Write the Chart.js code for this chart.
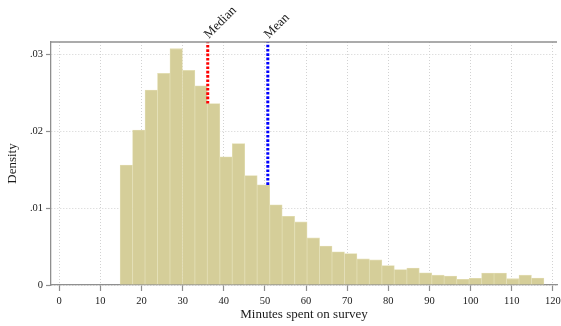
<!DOCTYPE html>
<html>
<head>
<meta charset="utf-8">
<script src="https://cdn.jsdelivr.net/npm/chart.js@4.4.1/dist/chart.umd.min.js"></script>
<style>
  body { margin: 0; background: #fff; }
  #wrap { width: 561px; height: 326px; }
</style>
</head>
<body>
<div id="wrap"><canvas id="myChart"></canvas></div>
<script>
// histogram bins (minutes), 34 bins
const binStart = 14.8;
const binWidth = 3.03;
const density = [
  0.01559, 0.02014, 0.02535, 0.02751, 0.03073, 0.0279, 0.0259, 0.0236,
  0.01667, 0.0184, 0.01423, 0.01302, 0.01042, 0.00894, 0.0082, 0.00612,
  0.00506, 0.00432, 0.0041, 0.00339, 0.00326, 0.00254, 0.00202, 0.00221,
  0.00158, 0.00128, 0.00117, 0.00074, 0.00087, 0.00156, 0.00156, 0.00082,
  0.00128, 0.00091
];
const xTicks = [0, 10, 20, 30, 40, 50, 60, 70, 80, 90, 100, 110, 120];
const yTicks = [0, 0.01, 0.02, 0.03];
const yTickLabels = ['0', '.01', '.02', '.03'];
const markerNames = ['Median', 'Mean'];
const markerValues = [36.1, 50.7];
const markerColors = ['#ff0000', '#0000ff'];

const xMin = -2, xMax = 121, yMax = 0.0316;
const serif = '"Liberation Serif", "Times New Roman", serif';

var barData = density.map(function(d, i){
    return {x: binStart + binWidth * (i + 0.5), y: d};
});

var heightAt = function(v){
    var k = Math.floor((v - binStart) / binWidth);
    return density[k];
};

var datasets = markerValues.map(function(v, i){
    return {
        type: 'line',
        label: markerNames[i],
        data: [{x: v, y: heightAt(v)}, {x: v, y: yMax}],
        borderColor: markerColors[i],
        borderWidth: 3,
        borderDash: [2.6, 1.7],
        borderCapStyle: 'butt',
        pointRadius: 0,
        order: 0
    };
});
datasets.push({
    type: 'bar',
    label: 'Density',
    data: barData,
    backgroundColor: 'rgb(213,206,153)',
    borderColor: 'rgb(226,221,178)',
    borderWidth: 0.8,
    barPercentage: 1,
    categoryPercentage: 1,
    order: 2
});

const extras = {
    id: 'extras',
    afterDraw(chart){
        const ctx = chart.ctx, a = chart.chartArea, xs = chart.scales.x;
        ctx.save();
        // top frame line
        ctx.strokeStyle = '#8f8f8f';
        ctx.lineWidth = 1.3;
        ctx.beginPath();
        ctx.moveTo(a.left, a.top);
        ctx.lineTo(a.right, a.top);
        ctx.stroke();

        // rotated marker labels
        ctx.fillStyle = '#1a1a1a';
        ctx.font = '13px ' + serif;
        ctx.textAlign = 'left';
        ctx.textBaseline = 'alphabetic';
        markerValues.forEach(function(v, i){
            ctx.save();
            ctx.translate(xs.getPixelForValue(v) + 1, a.top - 3);
            ctx.rotate(-Math.PI / 4);
            ctx.fillText(markerNames[i], 0, 0);
            ctx.restore();
        });

        // axis titles
        ctx.font = '13px ' + serif;
        ctx.textAlign = 'center';
        ctx.textBaseline = 'middle';
        ctx.fillText('Minutes spent on survey', (a.left + a.right) / 2, 315);
        ctx.save();
        ctx.translate(13, (a.top + a.bottom) / 2);
        ctx.rotate(-Math.PI / 2);
        ctx.fillText('Density', 0, 0);
        ctx.restore();
        ctx.restore();
    }
};

var myChart = new Chart('myChart', {
    data: {datasets: datasets},
    plugins: [extras],
    options: {
        responsive: true,
        maintainAspectRatio: false,
        animation: false,
        layout: {padding: {top: 42, right: 4, left: 0, bottom: 0}},
        plugins: {
            legend: {display: false},
            tooltip: {enabled: false}
        },
        scales: {
            x: {
                type: 'linear',
                min: xMin,
                max: xMax,
                offset: false,
                afterBuildTicks: function(s){ s.ticks = xTicks.map(function(v){ return {value: v}; }); },
                afterFit: function(s){ s.height = 41; s.paddingLeft = 0; s.paddingRight = 0; },
                grid: {
                    offset: false,
                    color: '#d2d2d2',
                    lineWidth: 1,
                    tickColor: '#8f8f8f',
                    tickLength: 6,
                    tickWidth: 1.2,
                    tickBorderDash: []
                },
                border: {display: true, color: '#8f8f8f', width: 1.3, dash: [1, 2]},
                ticks: {
                    color: '#1a1a1a',
                    font: {family: serif, size: 10.5},
                    padding: 4,
                    maxRotation: 0,
                    autoSkip: false
                }
            },
            y: {
                type: 'linear',
                min: 0,
                max: yMax,
                afterBuildTicks: function(s){ s.ticks = yTicks.map(function(v){ return {value: v}; }); },
                afterFit: function(s){ s.width = 51; s.paddingTop = 0; s.paddingBottom = 0; },
                grid: {
                    color: '#d2d2d2',
                    lineWidth: 1,
                    tickColor: '#8f8f8f',
                    tickLength: 5,
                    tickWidth: 1.2,
                    tickBorderDash: []
                },
                border: {display: true, color: '#8f8f8f', width: 1.3, dash: [1, 2]},
                ticks: {
                    color: '#1a1a1a',
                    font: {family: serif, size: 10.5},
                    padding: 3,
                    callback: function(v){ return yTickLabels[yTicks.indexOf(v)]; }
                }
            }
        }
    }
});
</script>
</body>
</html>
